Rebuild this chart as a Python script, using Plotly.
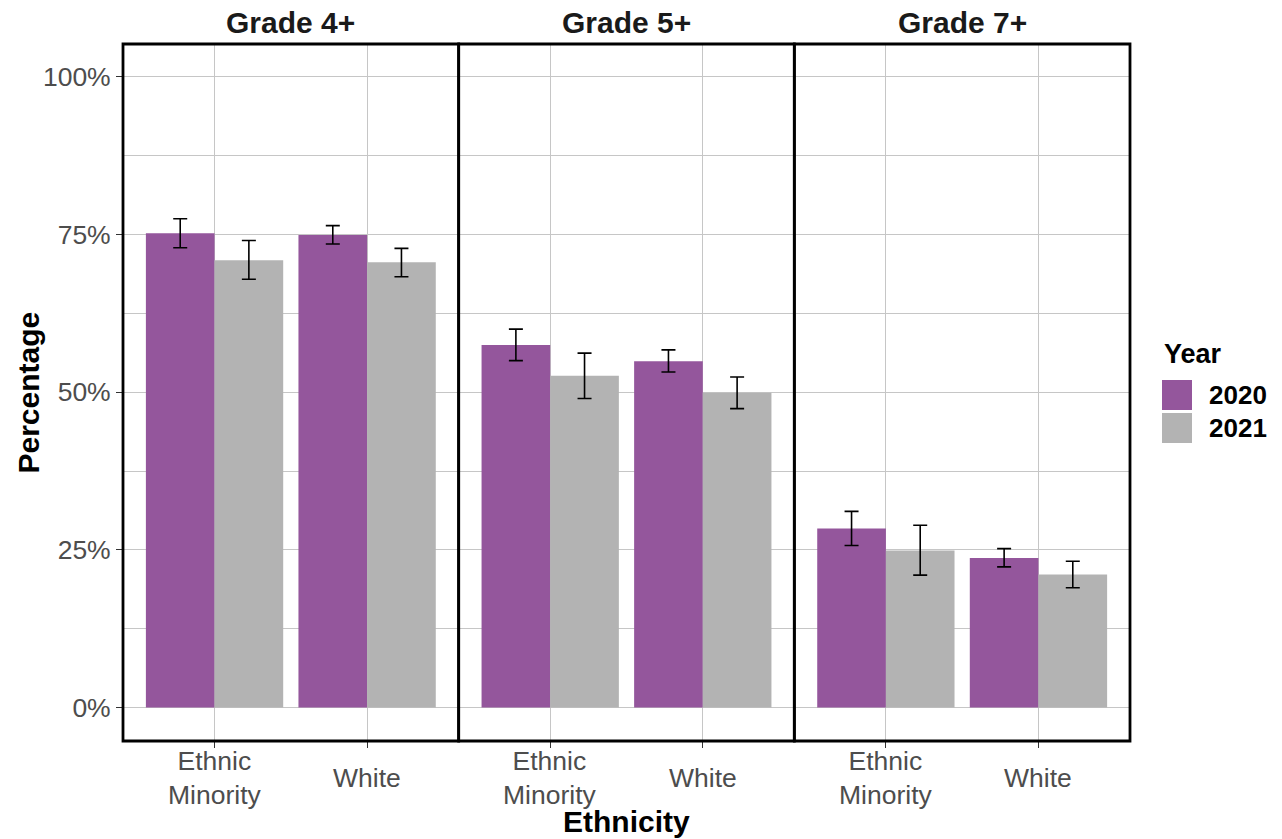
import plotly.graph_objects as go
from plotly.subplots import make_subplots

# ---- data ----
grades = ["Grade 4+", "Grade 5+", "Grade 7+"]
ethnicities = ["Ethnic Minority", "White"]
ethnicity_labels = ["Ethnic<br>Minority", "White"]
years = ["2020", "2021"]

pct_2020 = [[75.2, 74.9], [57.5, 54.9], [28.4, 23.7]]
upper_2020 = [[77.5, 76.4], [60.0, 56.7], [31.1, 25.2]]
lower_2020 = [[72.9, 73.5], [55.0, 53.2], [25.7, 22.3]]

pct_2021 = [[70.9, 70.6], [52.6, 49.9], [24.9, 21.1]]
upper_2021 = [[74.05, 72.8], [56.2, 52.4], [28.9, 23.2]]
lower_2021 = [[67.9, 68.3], [49.0, 47.4], [21.0, 19.0]]

y_ticks = [0, 25, 50, 75, 100]
y_ticktext = ["0%", "25%", "50%", "75%", "100%"]
y_minor = [12.5, 37.5, 62.5, 87.5]

colors = {"2020": "#94569c", "2021": "#b3b3b3"}
FONT = "Liberation Sans, Arial, sans-serif"

W, H = 1282, 839
L, R, T, B = 123, 152, 44, 98
PW, PH = W - L - R, H - T - B


def px_x(px):
    return (px - L) / PW


def px_y(py):
    return (H - B - py) / PH


fig = make_subplots(rows=1, cols=3, shared_yaxes=True, horizontal_spacing=0)

series = [
    ("2020", pct_2020, upper_2020, lower_2020),
    ("2021", pct_2021, upper_2021, lower_2021),
]

for gi, g in enumerate(grades):
    for yr, vals, up, lo in series:
        v = vals[gi]
        fig.add_trace(
            go.Bar(
                x=ethnicities,
                y=v,
                name=yr,
                marker=dict(color=colors[yr], line=dict(width=0)),
                showlegend=False,
                hoverinfo="skip",
                error_y=dict(
                    type="data",
                    symmetric=False,
                    array=[u - a for u, a in zip(up[gi], v)],
                    arrayminus=[a - l for l, a in zip(lo[gi], v)],
                    color="black",
                    thickness=1.6,
                    width=7,
                ),
            ),
            row=1,
            col=gi + 1,
        )

axis_common = dict(
    showline=False,
    showgrid=True,
    gridcolor="#c6c6c6",
    gridwidth=1.2,
    zeroline=False,
)

shapes = []
for i in range(1, 4):
    xa = "xaxis" if i == 1 else f"xaxis{i}"
    ya = "yaxis" if i == 1 else f"yaxis{i}"
    fig.layout[xa].update(
        **axis_common,
        type="category",
        categoryorder="array",
        categoryarray=ethnicities,
        range=[-0.6, 1.6],
        ticks="outside",
        ticklen=6,
        tickwidth=1.2,
        tickcolor="#333333",
        showticklabels=False,
    )
    fig.layout[ya].update(
        **axis_common,
        range=[-5.3, 105.2],
        tickvals=y_ticks,
        ticktext=y_ticktext,
        ticks="outside" if i == 1 else "",
        ticklen=6,
        tickwidth=1.2,
        tickcolor="#333333",
        showticklabels=(i == 1),
        tickfont=dict(family=FONT, size=26.5, color="#4d4d4d"),
        minor=dict(tickvals=y_minor, showgrid=True, gridcolor="#c6c6c6", gridwidth=1.2, ticks=""),
    )
    # panel border
    xd = "x domain" if i == 1 else f"x{i} domain"
    yd = "y domain" if i == 1 else f"y{i} domain"
    shapes.append(dict(
        type="rect", xref=xd, yref=yd, x0=0, x1=1, y0=0, y1=1,
        line=dict(color="black", width=2.8), fillcolor="rgba(0,0,0,0)", layer="above",
    ))

annotations = []
# strip titles and category labels
for gi, g in enumerate(grades):
    xref = "x domain" if gi == 0 else f"x{gi + 1} domain"
    annotations.append(dict(
        text=f"<b>{g}</b>", xref=xref, yref="paper", x=0.5, y=1, yshift=22,
        xanchor="center", yanchor="middle", showarrow=False,
        font=dict(family=FONT, size=30, color="#1a1a1a"),
    ))
    xr = "x" if gi == 0 else f"x{gi + 1}"
    for e, lab in zip(ethnicities, ethnicity_labels):
        annotations.append(dict(
            text=lab, xref=xr, yref="paper", x=e, y=px_y(778),
            xanchor="center", yanchor="middle", showarrow=False, align="center",
            font=dict(family=FONT, size=26.5, color="#4d4d4d"),
        ))

# axis titles
annotations.append(dict(
    text="<b>Ethnicity</b>", xref="paper", yref="paper", x=0.5, y=px_y(821),
    xanchor="center", yanchor="middle", showarrow=False,
    font=dict(family=FONT, size=30, color="black"),
))
annotations.append(dict(
    text="<b>Percentage</b>", xref="paper", yref="paper", x=px_x(28), y=0.5,
    xanchor="center", yanchor="middle", showarrow=False, textangle=-90,
    font=dict(family=FONT, size=30, color="black"),
))

# legend (drawn manually for large keys)
annotations.append(dict(
    text="<b>Year</b>", xref="paper", yref="paper", x=px_x(1162), y=px_y(354),
    xanchor="left", yanchor="middle", showarrow=False,
    font=dict(family=FONT, size=27, color="black"),
))
key_tops = [380, 413]
for yr, top in zip(years, key_tops):
    shapes.append(dict(
        type="rect", xref="paper", yref="paper",
        x0=px_x(1162), x1=px_x(1192), y0=px_y(top + 30), y1=px_y(top),
        fillcolor=colors[yr], line=dict(width=0),
    ))
    annotations.append(dict(
        text=f"<b>{yr}</b>", xref="paper", yref="paper", x=px_x(1207), y=px_y(top + 15),
        xanchor="left", yanchor="middle", showarrow=False,
        font=dict(family=FONT, size=26, color="black"),
    ))

fig.update_layout(
    width=W,
    height=H,
    margin=dict(l=L, r=R, t=T, b=B, autoexpand=False),
    paper_bgcolor="white",
    plot_bgcolor="white",
    barmode="group",
    bargap=0.1,
    bargroupgap=0,
    showlegend=False,
    annotations=annotations,
    shapes=shapes,
    font=dict(family=FONT),
)

fig.write_html(
    "out.html",
    config={"displayModeBar": False},
    post_script="document.body.style.margin='0';document.body.style.overflow='hidden';",
)
